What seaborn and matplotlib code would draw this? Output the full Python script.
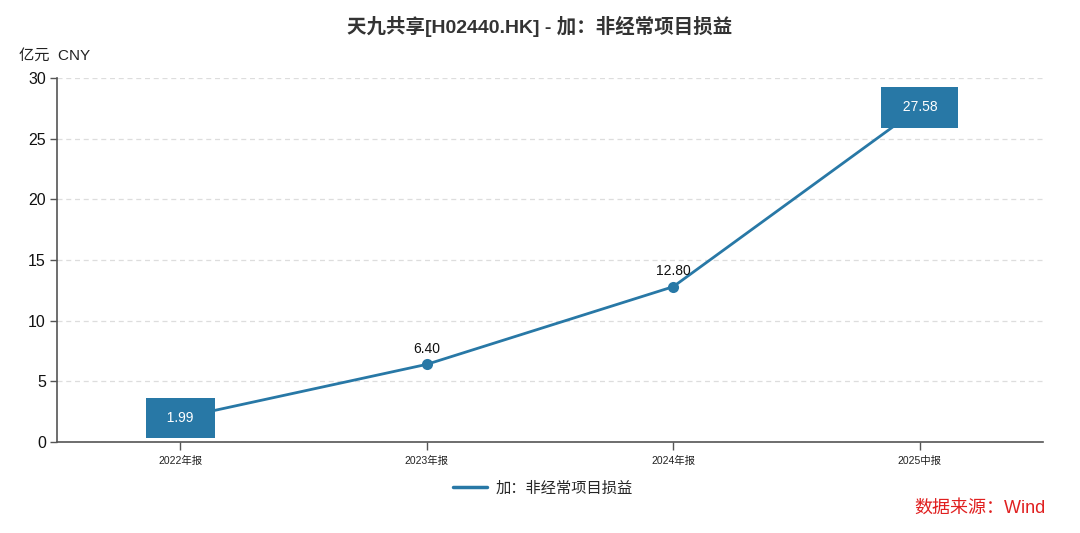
import matplotlib
matplotlib.use("Agg")
import matplotlib.pyplot as plt
import seaborn as sns
import pandas as pd

# data
periods = ["2022年报", "2023年报", "2024年报", "2025中报"]
values = [1.99, 6.40, 12.80, 27.58]
series_name = "加：非经常项目损益"
boxed = [True, False, False, True]

line_color = "#2878a6"

sns.set_theme(style="white")
plt.rcParams['font.family'] = ['Liberation Sans', 'Noto Sans CJK SC', 'DejaVu Sans']

df = pd.DataFrame({"period": periods, "value": values})

fig = plt.figure(figsize=(10.8, 5.33), dpi=100)
ax = fig.add_axes([0.0528, 0.1707, 0.9129, 0.683])

sns.lineplot(data=df, x="period", y="value", ax=ax, color=line_color,
             linewidth=2, marker="o", markersize=8, markeredgewidth=0,
             label=series_name, sort=False)

ax.set_xlim(-0.5, 3.5)
ax.set_ylim(0, 30)
ax.set_yticks([0, 5, 10, 15, 20, 25, 30])
ax.set_xlabel("")
ax.set_ylabel("")
ax.grid(axis="y", linestyle=(0, (4, 3)), color="#dddddd", linewidth=0.9)
ax.set_axisbelow(True)

for s in ["top", "right"]:
    ax.spines[s].set_visible(False)
for s in ["left", "bottom"]:
    ax.spines[s].set_color("#555555")
    ax.spines[s].set_linewidth(1.2)

ax.tick_params(axis="y", labelsize=11.5, length=5, width=1, color="#555555",
               left=True, pad=3, labelcolor="#111111")
ax.tick_params(axis="x", labelsize=7.5, length=6, width=1, color="#555555",
               bottom=True, pad=4, labelcolor="#222222")

# value labels
for i, (p, v) in enumerate(zip(periods, values)):
    if boxed[i]:
        ax.text(i, v, f"  {v:.2f}  ", ha="center", va="center", color="white",
                fontsize=10, zorder=5,
                bbox=dict(boxstyle="square,pad=0.95", facecolor=line_color,
                          edgecolor="none"))
    else:
        ax.annotate(f"{v:.2f}", (i, v), xytext=(0, 6), textcoords="offset points",
                    ha="center", va="bottom", fontsize=10, color="#111111", zorder=5)

leg = ax.legend(loc="upper center", bbox_to_anchor=(0.493, -0.07), frameon=False,
                fontsize=11, handlelength=2.2, handletextpad=0.6)
for h in leg.legend_handles:
    h.set_marker("")
    h.set_linewidth(2.5)

fig.text(0.5, 0.95, "天九共享[H02440.HK] - 加：非经常项目损益", ha="center",
         va="center", fontsize=14, fontweight="bold", color="#333333")
fig.text(0.018, 0.895, "亿元  CNY", ha="left", va="center", fontsize=11,
         color="#222222")
fig.text(0.968, 0.047, "数据来源：Wind", ha="right", va="center", fontsize=13,
         color="#e02020")

fig.savefig("out.png", dpi=100)
